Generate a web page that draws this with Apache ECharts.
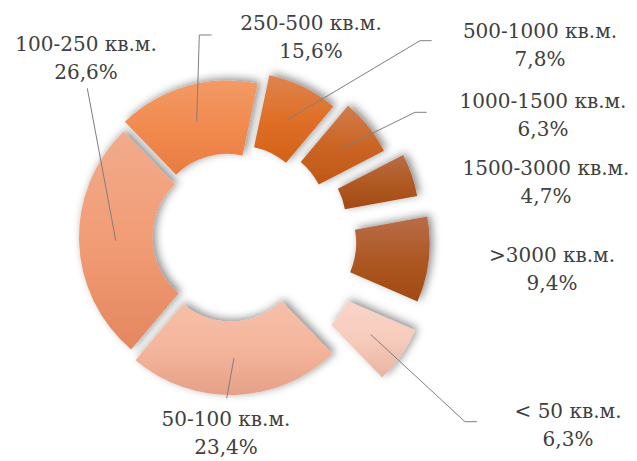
<!DOCTYPE html>
<html>
<head>
<meta charset="utf-8">
<script src="https://cdn.jsdelivr.net/npm/echarts@6/dist/echarts.min.js"></script>
<style>
  html, body { margin: 0; padding: 0; background: #ffffff; }
  #chart { width: 637px; height: 461px; }
</style>
</head>
<body>
<div id="chart"></div>
<script>
// ---- data ----
const categories = ['< 50 кв.м.', '50-100 кв.м.', '100-250 кв.м.', '250-500 кв.м.',
                    '500-1000 кв.м.', '1000-1500 кв.м.', '1500-3000 кв.м.', '>3000 кв.м.'];
const shares = [6.3, 23.4, 26.6, 15.6, 7.8, 6.3, 4.7, 9.4];

// ---- layout / style ----
const CENTER = [230, 237];
const RADIUS = [73.5, 147];
const START_ANGLE = -23.4;              // ECharts: degrees ccw from 3 o'clock
const EXPLODE = [61, 11, 4, 10, 20, 30, 45, 53];
const GRADIENTS = [
  ['#f9d5c9', '#f7cbbb', '#e8b3a2'],
  ['#f7c0a9', '#f4b59c', '#e6a088'],
  ['#f2ab8c', '#f29c75', '#e3875f'],
  ['#f29a66', '#f28a4f', '#e87c40'],
  ['#de8450', '#df6f26', '#d2611a'],
  ['#cf7d4e', '#cc6524', '#bf5716'],
  ['#ba6d46', '#b05a24', '#a34a12'],
  ['#b96d4a', '#ad5823', '#a24a10']
];
// label block centre and leader-line path near the label (null = no leader)
const LABEL_POS = [
  { at: [568, 425], guide: [[465, 421.7], [477, 421.7]] },
  { at: [226, 433], guide: [[226.7, 398.3]] },
  { at: [86, 57.5], guide: [[87.3, 88.3]] },
  { at: [311, 37],  guide: [[199.3, 35], [211.7, 35]] },
  { at: [540, 45],  guide: [[420, 40.7], [431.7, 40.7]] },
  { at: [543, 115], guide: [[415, 112.3], [426.7, 112.3]] },
  { at: [546, 182], guide: null },
  { at: [552, 269], guide: null }
];

const total = shares.reduce((a, b) => a + b, 0);
function midDir(i) {
  let cum = 0;
  for (let j = 0; j < i; j++) cum += shares[j];
  const midCw = (cum + shares[i] / 2) / total * 360;
  const a = (START_ANGLE - midCw) * Math.PI / 180;
  return [Math.cos(a), -Math.sin(a)];
}
function sliceCenter(k) {
  const d = midDir(k);
  return [CENTER[0] + EXPLODE[k] * d[0], CENTER[1] + EXPLODE[k] * d[1]];
}

// one pie series per (exploded) slice
const series = categories.map((cat, k) => ({
  type: 'pie',
  z: 2,
  center: sliceCenter(k),
  radius: RADIUS,
  startAngle: START_ANGLE,
  clockwise: true,
  silent: true,
  animation: false,
  label: { show: false },
  labelLine: { show: false },
  data: categories.map((name, j) => {
    if (j !== k) return { name, value: shares[j], itemStyle: { opacity: 0 } };
    const g = GRADIENTS[j];
    return {
      name, value: shares[j],
      itemStyle: {
        color: { type: 'linear', x: 0, y: 0, x2: 0, y2: 1,
                 colorStops: [{ offset: 0, color: g[0] }, { offset: 0.5, color: g[1] }, { offset: 1, color: g[2] }] },
        shadowBlur: 8,
        shadowColor: 'rgba(0,0,0,0.45)',
        shadowOffsetX: 3,
        shadowOffsetY: -2
      }
    };
  })
}));

// overlay series carrying the data labels and leader lines
const midR = (RADIUS[0] + RADIUS[1]) / 2;
series.push({
  type: 'pie',
  z: 5,
  center: CENTER,
  radius: RADIUS,
  startAngle: START_ANGLE,
  clockwise: true,
  silent: true,
  animation: false,
  avoidLabelOverlap: false,
  itemStyle: { color: 'rgba(0,0,0,0)' },
  label: {
    show: true,
    position: 'outside',
    fontFamily: '"DejaVu Serif", serif',
    fontSize: 20,
    lineHeight: 28,
    color: '#404040',
    align: 'center',
    formatter: p => p.name + '\n' + p.value.toFixed(1).replace('.', ',') + '%'
  },
  labelLine: { show: true, lineStyle: { color: '#7f7f7f', width: 1 } },
  labelLayout: function (params) {
    const k = params.dataIndex;
    const lp = LABEL_POS[k];
    const out = { x: lp.at[0], y: lp.at[1], align: 'center', verticalAlign: 'middle' };
    if (lp.guide) {
      const c = sliceCenter(k), d = midDir(k);
      const anchor = [c[0] + midR * d[0], c[1] + midR * d[1]];
      const pts = [anchor].concat(lp.guide);
      if (pts.length === 2) pts.push(pts[1]);
      out.labelLinePoints = pts;
    }
    return out;
  },
  data: categories.map((name, j) => ({
    name, value: shares[j],
    labelLine: { show: !!LABEL_POS[j].guide }
  }))
});

const chart = echarts.init(document.getElementById('chart'), null, { renderer: 'svg' });
chart.setOption({
  backgroundColor: '#ffffff',
  animation: false,
  series
});
</script>
</body>
</html>
